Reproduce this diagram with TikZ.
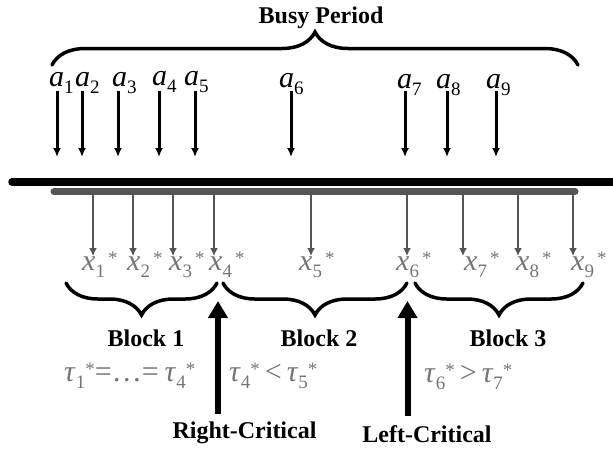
\documentclass[tikz,border=0pt]{standalone}
\usepackage{fontspec}
\setmainfont{Liberation Serif}
\usetikzlibrary{arrows.meta,decorations.pathreplacing}
\definecolor{gline}{HTML}{555555}
\definecolor{gtext}{HTML}{757575}
\newcommand{\mysub}[1]{\raisebox{-7pt}{\fontsize{19}{19}\selectfont #1}}
\newcommand{\mystar}{\raisebox{6pt}{\fontsize{19}{19}\selectfont *}}
\begin{document}
\begin{tikzpicture}[x=1pt,y=1pt,
  boldtxt/.style={font=\fontsize{24}{28}\selectfont\bfseries, inner sep=0pt, anchor=base},
  alab/.style={font=\fontsize{30}{32}\selectfont, inner sep=0pt, anchor=base west},
  xlab/.style={alab, text=gtext},
  arr/.style={line width=3pt, -{Latex[length=9pt,width=8pt]}},
  garr/.style={draw=gline, line width=2.8pt, -{Latex[length=8pt,width=8pt]}, color=gline},
  bigarr/.style={line width=6pt, -{Triangle[length=17pt,width=19pt]}},
  bracedraw/.style={decorate, decoration={brace, amplitude=33pt}, line width=3.5pt, line cap=round}]
\useasboundingbox (0,0) rectangle (613,-451);

% top brace and title
\coordinate (tbl) at (52,-65);
\coordinate (tbr) at (578,-65);
\draw[bracedraw] (tbl) -- (tbr);
\node[boldtxt] (busy) at (321,-23) {Busy Period};

% arrival labels and arrows
\foreach \i/\lx/\ax/\by in {1/49/57/86, 2/75/82/86, 3/112/118/86, 4/152/159/85, 5/184/195/85, 6/279/291/87, 7/397/405/88, 8/436/447/88, 9/486/496/88} {
  \node[alab] (a\i) at (\lx,-\by) {\textit{a}\mysub{\i}};
  \coordinate (as\i) at (\ax,-91);
  \coordinate (ae\i) at (\ax,-157);
  \draw[arr] (as\i) -- (ae\i);
}

% main lines
\coordinate (bl) at (12,-182);
\coordinate (br) at (620,-182);
\draw[line width=7.5pt, line cap=round] (bl) -- (br);
\coordinate (gl) at (54,-191.5);
\coordinate (gr) at (575,-191.5);
\draw[gline, line width=7pt, line cap=round] (gl) -- (gr);

% departure arrows and labels
\foreach \i/\lx/\ax in {1/82/93, 2/127/133, 3/169/173, 4/209/214, 5/299/311, 6/396/407, 7/464/463, 8/516/518, 9/571/573} {
  \coordinate (xs\i) at (\ax,-195);
  \coordinate (xe\i) at (\ax,-256);
  \draw[garr] (xs\i) -- (xe\i);
  \node[xlab] (x\i) at (\lx,-270) {\textit{x}\mysub{\i}\hspace{3pt}\mystar};
}

% block braces
\coordinate (b1l) at (66,-283);  \coordinate (b1r) at (217,-283);
\coordinate (b2l) at (223,-283); \coordinate (b2r) at (407,-283);
\coordinate (b3l) at (415,-283); \coordinate (b3r) at (583,-283);
\draw[bracedraw, decoration={brace, amplitude=32pt}] (b1r) -- (b1l);
\draw[bracedraw, decoration={brace, amplitude=32pt}] (b2r) -- (b2l);
\draw[bracedraw, decoration={brace, amplitude=32pt}] (b3r) -- (b3l);

\node[boldtxt] (blk1) at (146,-346) {Block 1};
\node[boldtxt] (blk2) at (319,-346) {Block 2};
\node[boldtxt] (blk3) at (508,-346) {Block 3};

% tau relations
\node[xlab] (t1) at (64,-381) {\textit{τ}\mysub{1}\mystar=…=\hspace{6pt}\textit{τ}\mysub{4}\mystar};
\node[xlab] (t2) at (229,-381) {\textit{τ}\mysub{4}\mystar\hspace{5pt}<\hspace{5pt}\textit{τ}\mysub{5}\mystar};
\node[xlab] (t3) at (424,-382) {\textit{τ}\mysub{6}\mystar\hspace{5pt}>\hspace{5pt}\textit{τ}\mysub{7}\mystar};

% critical arrows
\node[boldtxt] (rc) at (244.5,-438) {Right-Critical};
\node[boldtxt] (lc) at (427,-442) {Left-Critical};
\coordinate (rcs) at (218,-414);
\coordinate (rce) at (218,-301);
\coordinate (lcs) at (407.5,-416);
\coordinate (lce) at (407.5,-301);
\draw[bigarr] (rcs) -- (rce);
\draw[bigarr] (lcs) -- (lce);
\end{tikzpicture}
\end{document}
